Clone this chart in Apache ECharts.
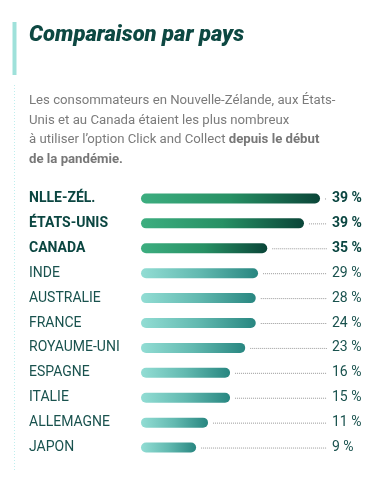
<!DOCTYPE html>
<html><head><meta charset="utf-8">
<script src="https://cdn.jsdelivr.net/npm/echarts@6/dist/echarts.min.js"></script>
<style>html,body{margin:0;padding:0;background:#fff}#c{width:388px;height:480px}</style>
</head><body><div id="c"></div>
<script>
const categories = ['NLLE-ZÉL.', 'ÉTATS-UNIS', 'CANADA', 'INDE', 'AUSTRALIE', 'FRANCE', 'ROYAUME-UNI', 'ESPAGNE', 'ITALIE', 'ALLEMAGNE', 'JAPON'];
const percentLabels = [39, 39, 35, 29, 28, 24, 23, 16, 15, 11, 9];
const barLengths = [39, 35.5, 27.5, 25.5, 25, 25, 22.7, 19.4, 19.4, 14.6, 12];
const highlightCount = 3;
const axisMax = 40.3;

const font = 'Roboto, "Noto Sans", sans-serif';
const chart = echarts.init(document.getElementById('c'), null, {renderer: 'canvas'});

function grad(hi) {
  return new echarts.graphic.LinearGradient(0, 0, 1, 0, hi
    ? [{offset: 0, color: '#3dae80'}, {offset: 0.5, color: '#279064'}, {offset: 1, color: '#0a4538'}]
    : [{offset: 0, color: '#92ddd4'}, {offset: 0.5, color: '#62b9b0'}, {offset: 1, color: '#288680'}]);
}

const labelRich = {
  b: {fontSize: 14, fontWeight: 'bold', color: '#0b4641', fontFamily: font},
  n: {fontSize: 14, fontWeight: 'normal', color: '#19524e', fontFamily: font}
};

chart.setOption({
  animation: false,
  grid: {left: 141, width: 185, top: 186, height: 274, containLabel: false},
  xAxis: {type: 'value', min: 0, max: axisMax, show: false},
  yAxis: [{
    type: 'category', data: categories, inverse: true,
    axisLine: {show: false}, axisTick: {show: false},
    axisLabel: {
      align: 'left', margin: 112, fontFamily: font,
      formatter: (v, i) => i < highlightCount ? '{b|' + v + '}' : '{n|' + v + '}',
      rich: labelRich
    }
  }, {
    type: 'category', data: percentLabels.map(p => p + ' %'), inverse: true, position: 'right',
    axisLine: {show: false}, axisTick: {show: false},
    axisLabel: {
      align: 'left', margin: 6, fontFamily: font,
      formatter: (v, i) => i < highlightCount ? '{b|' + v + '}' : '{n|' + v + '}',
      rich: labelRich
    }
  }],
  series: [{
    type: 'bar', yAxisIndex: 0, barWidth: 10,
    data: barLengths.map((v, i) => ({value: v, itemStyle: {color: grad(i < highlightCount), borderRadius: 5}}))
  }, {
    type: 'custom', yAxisIndex: 0, clip: false,
    data: barLengths.map((v, i) => [v, i]),
    renderItem: (params, api) => {
      const p = api.coord([api.value(0), api.value(1)]);
      const e = api.coord([axisMax, api.value(1)]);
      return {
        type: 'line',
        shape: {x1: p[0] + 5, y1: p[1] + 0.5, x2: e[0] + 1, y2: p[1] + 0.5},
        style: {stroke: '#9a9a9a', lineWidth: 1, lineDash: [1, 1]}
      };
    }
  }],
  graphic: [
    {type: 'rect', shape: {x: 12.5, y: 22, width: 4, height: 53}, style: {fill: '#9fe1da'}},
    {type: 'line', shape: {x1: 14.5, y1: 85, x2: 14.5, y2: 472}, style: {stroke: '#bfeeee', lineWidth: 1, lineDash: [1, 2]}},
    {type: 'text', left: 29, top: 24, style: {
      text: 'Comparaison par pays', fill: '#0d4842',
      font: 'italic 900 22px Roboto, sans-serif'
    }},
    {type: 'text', left: 29, top: 91, style: {
      text: 'Les consommateurs en Nouvelle-Zélande, aux États-\nUnis et au Canada étaient les plus nombreux\nà utiliser l’option Click and Collect {b|depuis le début}\n{b|de la pandémie.}',
      fill: '#7b7b7b', fontSize: 13.2, fontFamily: font, lineHeight: 19.6,
      rich: {b: {fontWeight: 'bold', fill: '#777', fontSize: 13.2, fontFamily: font, lineHeight: 19.6}}
    }}
  ]
});
</script></body></html>
